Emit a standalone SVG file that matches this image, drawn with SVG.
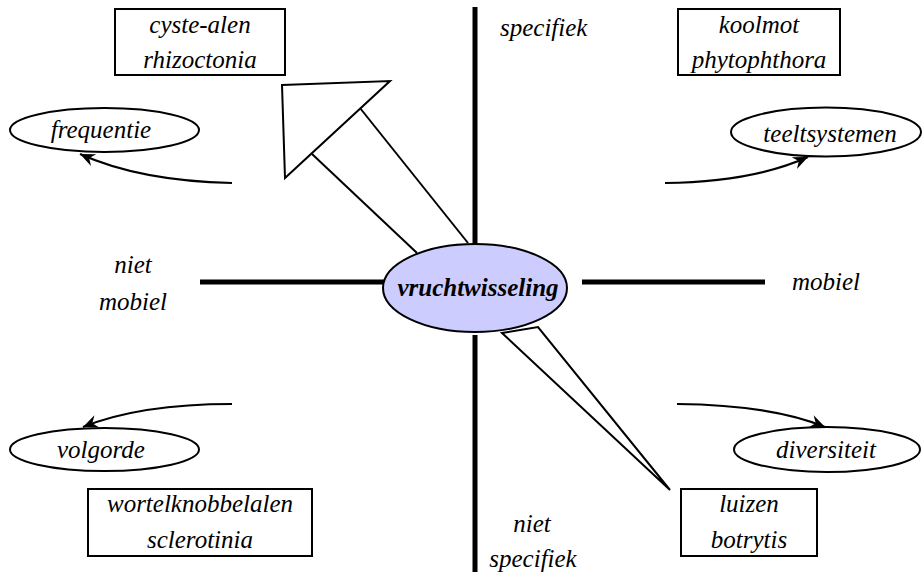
<svg xmlns="http://www.w3.org/2000/svg" width="922" height="576" viewBox="0 0 922 576">
<defs>
<marker id="ah" viewBox="-16 -8 18 16" refX="0" refY="0" markerWidth="18" markerHeight="16" markerUnits="userSpaceOnUse" orient="auto">
<path d="M0,0 L-15,-6.5 L-10,0 L-15,6.5 z" fill="#000"/>
</marker>
</defs>
<style>
text{font-family:'Liberation Serif','Times New Roman','DejaVu Serif',serif;font-style:italic;font-size:25px;fill:#000}
.c{text-anchor:middle}
.box{fill:#fff;stroke:#000;stroke-width:2}
.ell{fill:#fff;stroke:#000;stroke-width:2}
.axis{stroke:#000;stroke-width:5;fill:none}
.curve{fill:none;stroke:#000;stroke-width:2.2;marker-end:url(#ah)}
.big{fill:#fff;stroke:#000;stroke-width:2;stroke-linejoin:miter}
.ln{stroke:#000;stroke-width:2}
</style>
<rect width="922" height="576" fill="#fff"/>
<g id="connectors">
<polygon class="big" points="502,333 670,490 538,327"/>
<polygon points="417,253 312,154 360,108 468,243" fill="#fff"/>
<line class="ln" x1="417" y1="253" x2="312" y2="154"/>
<line class="ln" x1="468" y1="243" x2="360" y2="108"/>
<polygon class="big" points="282,85 390,81 285,178"/>
<path class="curve" d="M232,183 Q140,181 80,154"/>
<path class="curve" d="M665,183 Q752,182 808,157"/>
<path class="curve" d="M232,404 Q140,404 83,427"/>
<path class="curve" d="M677,404 Q772,405 825,427"/>
</g>
<g id="axes">
<line class="axis" x1="475" y1="7" x2="475" y2="245"/>
<line class="axis" x1="475" y1="335" x2="475" y2="572"/>
<line class="axis" x1="200" y1="282" x2="385" y2="282"/>
<line class="axis" x1="582" y1="282" x2="765" y2="282"/>
</g>
<g id="center">
<ellipse cx="475" cy="288" rx="92" ry="44" fill="#ccccff" stroke="#000" stroke-width="2"/>
<text class="c" x="478" y="296" font-weight="bold">vruchtwisseling</text>
</g>
<g id="box-cyste">
<rect class="box" x="115" y="9" width="170" height="66"/>
<text class="c" x="200" y="33">cyste-alen</text>
<text class="c" x="200" y="68">rhizoctonia</text>
</g>
<g id="box-koolmot">
<rect class="box" x="678" y="9" width="162" height="66"/>
<text class="c" x="759" y="33">koolmot</text>
<text class="c" x="759" y="68">phytophthora</text>
</g>
<g id="box-wortel">
<rect class="box" x="88" y="489" width="224" height="67"/>
<text class="c" x="200" y="512">wortelknobbelalen</text>
<text class="c" x="200" y="548">sclerotinia</text>
</g>
<g id="box-luizen">
<rect class="box" x="681" y="489" width="136" height="67"/>
<text class="c" x="749" y="512">luizen</text>
<text class="c" x="749" y="548">botrytis</text>
</g>
<g id="ell-frequentie">
<ellipse class="ell" cx="104.5" cy="130" rx="94.5" ry="22"/>
<text class="c" x="101" y="138">frequentie</text>
</g>
<g id="ell-teelt">
<ellipse class="ell" cx="826" cy="132" rx="95" ry="24.5"/>
<text class="c" x="830" y="142">teeltsystemen</text>
</g>
<g id="ell-volgorde">
<ellipse class="ell" cx="104.5" cy="449.5" rx="94.5" ry="21.5"/>
<text class="c" x="101" y="458">volgorde</text>
</g>
<g id="ell-diversiteit">
<ellipse class="ell" cx="827" cy="449.5" rx="93" ry="22.5"/>
<text class="c" x="826" y="458">diversiteit</text>
</g>
<g id="labels">
<text x="500" y="36">specifiek</text>
<text class="c" x="133" y="273">niet</text>
<text class="c" x="133" y="310">mobiel</text>
<text x="792" y="290">mobiel</text>
<text class="c" x="532" y="532">niet</text>
<text class="c" x="533" y="567">specifiek</text>
</g>
</svg>
